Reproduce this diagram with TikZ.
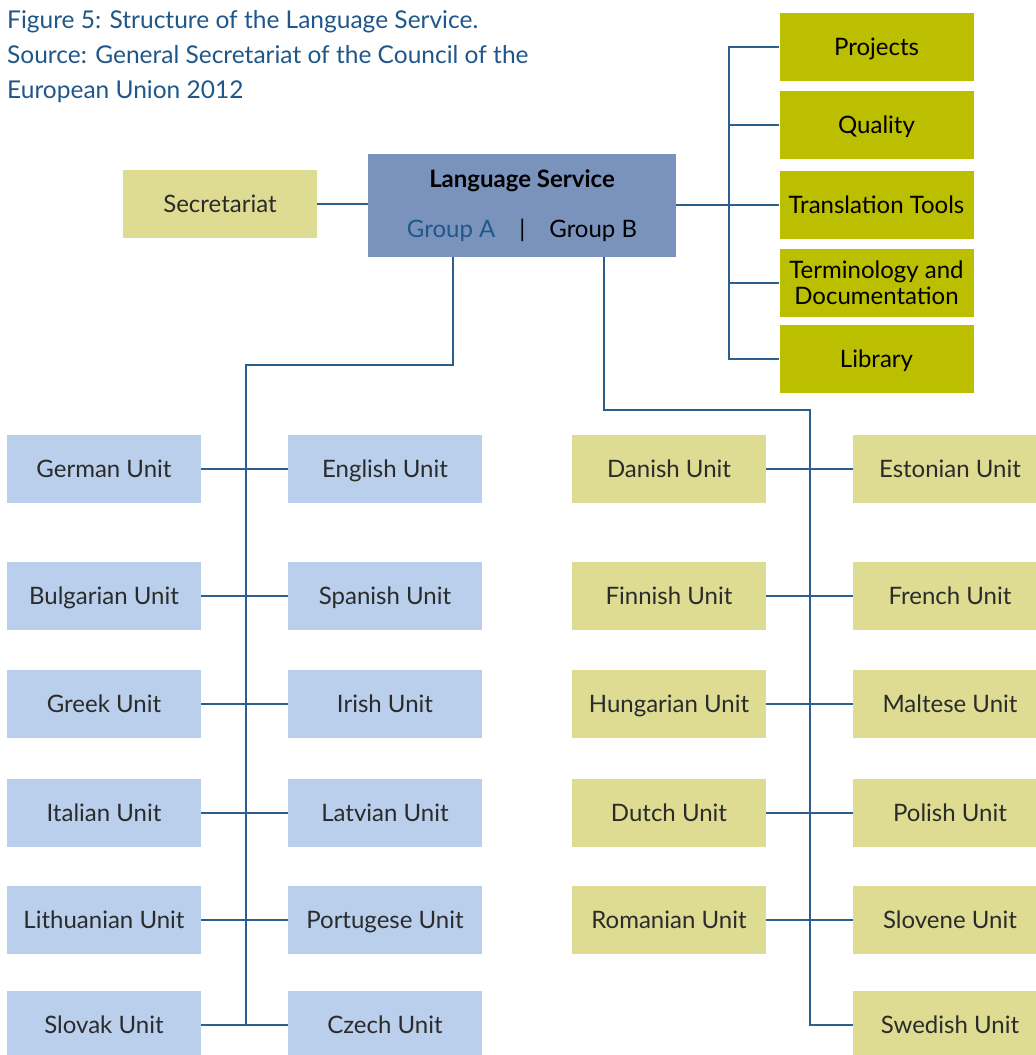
\documentclass[tikz,border=0pt]{standalone}
\usepackage{fontspec}
\setmainfont{Lato}
\definecolor{titleblue}{HTML}{1F578A}
\definecolor{linkblue}{HTML}{2C5F8E}
\definecolor{unitblue}{HTML}{B9CFEC}
\definecolor{unitgreen}{HTML}{DDDC92}
\definecolor{deptolive}{HTML}{BCBE00}
\definecolor{headblue}{HTML}{7A93BC}
\definecolor{boxtext}{HTML}{2B2B2B}
\usetikzlibrary{positioning}
\begin{document}
\begin{tikzpicture}[x=1pt, y=-1pt,
		box/.style={minimum width=194, minimum height=68, inner sep=0, align=center, text=boxtext,
			text height=18pt, text depth=1pt, font=\fontsize{24}{26}\selectfont},
		unitA/.style={box, fill=unitblue},
		unitB/.style={box, fill=unitgreen},
		dept/.style={box, fill=deptolive, text=black},
		link/.style={draw=linkblue, line width=1.2pt}]
		\useasboundingbox (0,0) rectangle (1036,1055);

		\node[anchor=north west, align=left, inner sep=0, text=titleblue, font=\fontsize{24.5}{35}\selectfont] (title) at (7,10)
			{Figure 5: Structure of the Language Service.\\Source: General Secretariat of the Council of the\\European Union 2012};

		\node[fill=headblue, minimum width=308, minimum height=103, inner sep=0, align=center, font=\fontsize{24}{26}\selectfont] (service) at (522,205.5)
			{\textbf{Language Service}\\[24pt]{\color{titleblue}Group A}\quad|\quad Group B};
		\node[unitB] (secretariat) at (220,204) {Secretariat};

		\node[dept] (projects) at (876.5,47) {Projects};
		\node[dept] (quality) at (876.5,125) {Quality};
		\node[dept] (tools) at (876.5,205) {Translation Tools};
		\node[dept, text height=, text depth=] (terminology) at (876.5,283) {Terminology and\\Documentation};
		\node[dept] (library) at (876.5,359) {Library};

		\node[unitA] (german) at (104,469) {German Unit};
		\node[unitA] (english) at (385,469) {English Unit};
		\node[unitA] (bulgarian) at (104,596) {Bulgarian Unit};
		\node[unitA] (spanish) at (385,596) {Spanish Unit};
		\node[unitA] (greek) at (104,704) {Greek Unit};
		\node[unitA] (irish) at (385,704) {Irish Unit};
		\node[unitA] (italian) at (104,813) {Italian Unit};
		\node[unitA] (latvian) at (385,813) {Latvian Unit};
		\node[unitA] (lithuanian) at (104,920) {Lithuanian Unit};
		\node[unitA] (portugese) at (385,920) {Portugese Unit};
		\node[unitA] (slovak) at (104,1025) {Slovak Unit};
		\node[unitA] (czech) at (385,1025) {Czech Unit};

		\node[unitB] (danish) at (669,469) {Danish Unit};
		\node[unitB] (estonian) at (950,469) {Estonian Unit};
		\node[unitB] (finnish) at (669,596) {Finnish Unit};
		\node[unitB] (french) at (950,596) {French Unit};
		\node[unitB] (hungarian) at (669,704) {Hungarian Unit};
		\node[unitB] (maltese) at (950,704) {Maltese Unit};
		\node[unitB] (dutch) at (669,813) {Dutch Unit};
		\node[unitB] (polish) at (950,813) {Polish Unit};
		\node[unitB] (romanian) at (669,920) {Romanian Unit};
		\node[unitB] (slovene) at (950,920) {Slovene Unit};
		\node[unitB] (swedish) at (950,1025) {Swedish Unit};

		\coordinate (deptbus) at (729,47);
		\coordinate (groupA) at (453,365);
		\coordinate (busA) at (246,365);
		\coordinate (groupB) at (604,410);
		\coordinate (busB) at (810,410);

		% head office
		\draw[link] (secretariat.east) -- (secretariat.east -| service.west);
		\draw[link] (service.east |- tools.west) -- (tools.west);
		\draw[link] (projects.west) -- (projects.west -| deptbus) |- (library.west);
		\draw[link] (quality.west) -- (quality.west -| deptbus);
		\draw[link] (terminology.west) -- (terminology.west -| deptbus);

		% group A
		\draw[link] (service.south -| groupA) -- (groupA) -- (busA) -- (busA |- slovak.east);
		\draw[link] (german.east) -- (english.west);
		\draw[link] (bulgarian.east) -- (spanish.west);
		\draw[link] (greek.east) -- (irish.west);
		\draw[link] (italian.east) -- (latvian.west);
		\draw[link] (lithuanian.east) -- (portugese.west);
		\draw[link] (slovak.east) -- (czech.west);

		% group B
		\draw[link] (service.south -| groupB) -- (groupB) -- (busB) |- (swedish.west);
		\draw[link] (danish.east) -- (estonian.west);
		\draw[link] (finnish.east) -- (french.west);
		\draw[link] (hungarian.east) -- (maltese.west);
		\draw[link] (dutch.east) -- (polish.west);
		\draw[link] (romanian.east) -- (slovene.west);
	\end{tikzpicture}
\end{document}
